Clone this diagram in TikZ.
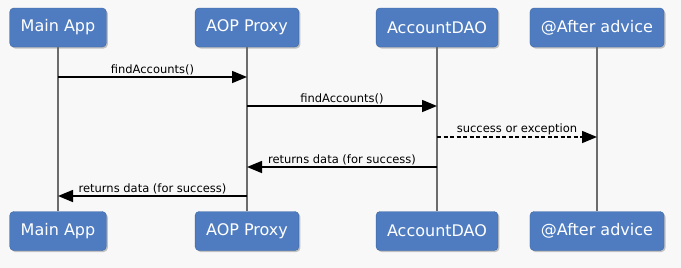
\documentclass[tikz,border=0pt]{standalone}
\usepackage{fontspec}
\setmainfont{DejaVu Sans}
\usepackage{tikz}
\usetikzlibrary{positioning,arrows.meta,shadows}

\definecolor{actorblue}{HTML}{4F7CC0}
\definecolor{actorline}{HTML}{3E66A3}
\definecolor{bgpaper}{HTML}{F8F8F8}

\begin{document}
\begin{tikzpicture}[
                x=1pt, y=-1pt,
                actor/.style={
                    draw=actorline,
                    fill=actorblue,
                    rounded corners=4pt,
                    minimum height=39pt,
                    inner xsep=11pt,
                    text=white,
                    font=\fontsize{16}{18}\selectfont,
                    drop shadow={opacity=0.45, shadow xshift=1.5pt, shadow yshift=-1.5pt}
                },
                life/.style={draw=gray!85!black, line width=1.3pt},
                msg/.style={-{Triangle[length=15pt, width=12pt]}, line width=1.5pt},
                reply/.style={msg, dash pattern=on 4pt off 2.5pt},
                lbl/.style={above, inner sep=1.5pt, font=\fontsize{11.5}{13}\selectfont}
            ]
                \fill[bgpaper] (0,0) rectangle (681,268);
                \useasboundingbox (0,0) rectangle (681,268);

                % heads and feet
                \node[actor] (mainT) at (58,27.5) {Main App};
                \node[actor] (proxyT) at (247,27.5) {AOP Proxy};
                \node[actor] (daoT) at (437,27.5) {AccountDAO};
                \node[actor] (afterT) at (597,27.5) {@After advice};
                \node[actor] (mainB) at (58,231) {Main App};
                \node[actor] (proxyB) at (247,231) {AOP Proxy};
                \node[actor] (daoB) at (437,231) {AccountDAO};
                \node[actor] (afterB) at (597,231) {@After advice};

                % lifelines
                \draw[life] (mainT) -- (mainB);
                \draw[life] (proxyT) -- (proxyB);
                \draw[life] (daoT) -- (daoB);
                \draw[life] (afterT) -- (afterB);

                % messages
                \draw[msg] (mainT |- 0,77) -- node[lbl] {findAccounts()} (proxyT |- 0,77);
                \draw[msg] (proxyT |- 0,106) -- node[lbl] {findAccounts()} (daoT |- 0,106);
                \draw[reply] (daoT |- 0,137) -- node[lbl] {success or exception} (afterT |- 0,137);
                \draw[msg] (daoT |- 0,167) -- node[lbl] {returns data (for success)} (proxyT |- 0,167);
                \draw[msg] (proxyT |- 0,196) -- node[lbl] {returns data (for success)} (mainT |- 0,196);
            \end{tikzpicture}
\end{document}
